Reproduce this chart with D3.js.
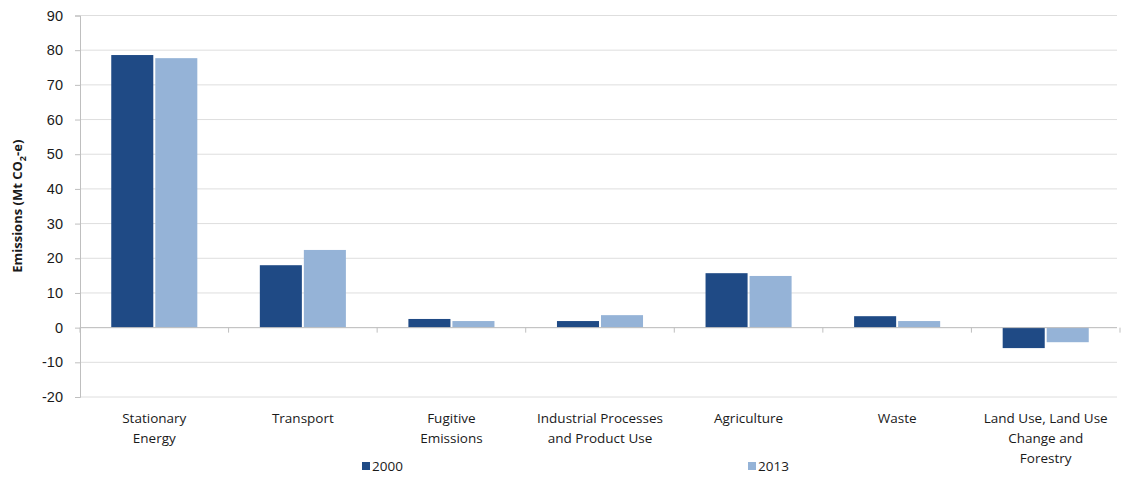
<!DOCTYPE html>
<html lang="en">
<head>
  <meta charset="UTF-8">
  <title>Emissions by sector</title>
  <style>
    body { margin: 0; background: #fff; }
    svg { font-family: 'Open Sans', 'Liberation Sans', sans-serif; }
  </style>
</head>
<body>
  <div id="chart"></div>
  <script src="https://d3js.org/d3.v7.min.js"></script>
  <script>
    const categories = [
      ['Stationary', 'Energy'],
      ['Transport'],
      ['Fugitive', 'Emissions'],
      ['Industrial Processes', 'and Product Use'],
      ['Agriculture'],
      ['Waste'],
      ['Land Use, Land Use', 'Change and', 'Forestry']
    ]
    const years = ['2000', '2013']
    const values2000 = [78.6, 18.0, 2.5, 1.9, 15.7, 3.3, -5.9]
    const values2013 = [77.7, 22.4, 1.9, 3.6, 14.9, 1.9, -4.2]
    const yTicks = [-20, -10, 0, 10, 20, 30, 40, 50, 60, 70, 80, 90]

    const width = 1132
    const height = 481
    const margin = { top: 15.5, right: 12, bottom: 84, left: 80 }
    const colors = ['#1f4a85', '#95b3d7']

    const svg = d3.select('#chart').append('svg')
      .attr('width', width)
      .attr('height', height)

    const x = d3.scaleBand()
      .domain(d3.range(categories.length))
      .range([margin.left, width - margin.right])

    const y = d3.scaleLinear()
      .domain([-20, 90])
      .range([height - margin.bottom, margin.top])

    const xSub = d3.scaleBand()
      .domain(years)
      .range([0, x.bandwidth()])
      .paddingInner(0.045)
      .paddingOuter(0.71)

    // gridlines
    svg.append('g')
      .selectAll('line')
      .data(yTicks)
      .join('line')
      .attr('x1', margin.left)
      .attr('x2', width - margin.right - 3)
      .attr('y1', d => y(d))
      .attr('y2', d => y(d))
      .attr('stroke', '#dedede')
      .attr('stroke-width', 1)

    // y axis
    const yAxis = svg.append('g')
      .attr('transform', `translate(${margin.left},0)`)
      .call(d3.axisLeft(y).tickValues(yTicks).tickFormat(d => String(d)).tickSize(5).tickPadding(12))
    yAxis.select('.domain').attr('stroke', '#bfbfbf')
    yAxis.selectAll('.tick line').attr('stroke', '#bfbfbf')
    yAxis.selectAll('text')
      .attr('font-size', 14.5)
      .attr('fill', '#1a1a1a')

    // bars
    const series = [values2000, values2013]
    series.forEach((vals, si) => {
      svg.append('g')
        .selectAll('rect')
        .data(vals)
        .join('rect')
        .attr('x', (d, i) => x(i) + xSub(years[si]))
        .attr('width', xSub.bandwidth())
        .attr('y', d => y(Math.max(0, d)))
        .attr('height', d => Math.abs(y(d) - y(0)))
        .attr('fill', colors[si])
    })

    // zero axis with category ticks
    const xAxis = svg.append('g')
      .attr('transform', `translate(0,${y(0)})`)
    xAxis.append('line')
      .attr('x1', margin.left)
      .attr('x2', width - margin.right - 3)
      .attr('stroke', '#bfbfbf')
    xAxis.selectAll('line.tk')
      .data(d3.range(categories.length + 1))
      .join('line')
      .attr('class', 'tk')
      .attr('x1', d => d < categories.length ? x(d) : x(d - 1) + x.bandwidth())
      .attr('x2', d => d < categories.length ? x(d) : x(d - 1) + x.bandwidth())
      .attr('y1', 0)
      .attr('y2', 5)
      .attr('stroke', '#bfbfbf')

    // category labels
    const labels = svg.append('g')
      .attr('font-size', 13.5)
      .attr('fill', '#1a1a1a')
      .attr('text-anchor', 'middle')
    categories.forEach((lines, i) => {
      lines.forEach((t, li) => {
        labels.append('text')
          .attr('x', x(i) + x.bandwidth() / 2)
          .attr('y', 423 + li * 20)
          .text(t)
      })
    })

    // y axis title
    const title = svg.append('text')
      .attr('transform', `translate(22,${(margin.top + height - margin.bottom) / 2}) rotate(-90)`)
      .attr('text-anchor', 'middle')
      .attr('font-size', 13)
      .attr('font-weight', 'bold')
      .attr('fill', '#1a1a1a')
    title.append('tspan').text('Emissions (Mt CO')
    title.append('tspan').attr('font-size', 9).attr('dy', 4).text('2')
    title.append('tspan').attr('dy', -4).text('-e)')

    // legend
    const legendX = [362, 748]
    const legend = svg.append('g')
    years.forEach((yr, i) => {
      legend.append('rect')
        .attr('x', legendX[i])
        .attr('y', 462)
        .attr('width', 8)
        .attr('height', 8)
        .attr('fill', colors[i])
      legend.append('text')
        .attr('x', legendX[i] + 10)
        .attr('y', 471)
        .attr('font-size', 13.5)
        .attr('fill', '#1a1a1a')
        .text(yr)
    })
  </script>
</body>
</html>
